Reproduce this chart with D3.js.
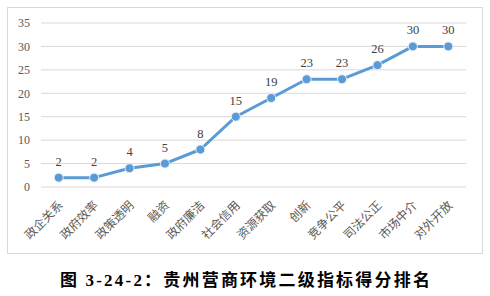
<!DOCTYPE html>
<html>
<head>
<meta charset="utf-8">
<script src="https://cdn.jsdelivr.net/npm/d3@7"></script>
<style>
	body { margin: 0; background: #fff; }
	svg { display: block; }
</style>
</head>
<body>
<div id="chart"></div>
<script>
const categories = ["政企关系", "政府效率", "政策透明", "融资", "政府廉洁", "社会信用",
	"资源获取", "创新", "竞争公平", "司法公正", "市场中介", "对外开放"];
const scores = [2, 2, 4, 5, 8, 15, 19, 23, 23, 26, 30, 30];
const yTicks = [0, 5, 10, 15, 20, 25, 30, 35];
const title = "图 3-24-2：贵州营商环境二级指标得分排名";

const width = 490, height = 296;
const plotLeft = 41, plotRight = 466, plotTop = 23, plotBottom = 187;
const serif = "'Liberation Serif', 'Noto Sans CJK SC', serif";

const svg = d3.select("#chart").append("svg")
	.attr("width", width)
	.attr("height", height);

// chart frame
svg.append("rect")
	.attr("x", 7.5).attr("y", 7.5)
	.attr("width", 475).attr("height", 246)
	.attr("fill", "#fff")
	.attr("stroke", "#d9d9d9");

const x = d3.scaleBand().domain(categories).range([plotLeft, plotRight]);
const y = d3.scaleLinear().domain([0, 35]).range([plotBottom, plotTop]);

// gridlines
svg.append("g").selectAll("line")
	.data(yTicks).enter()
	.append("line")
	.attr("x1", plotLeft).attr("x2", plotRight)
	.attr("y1", d => y(d)).attr("y2", d => y(d))
	.attr("stroke", "#d9d9d9")
	.attr("stroke-width", 1);

// y axis
const yAxis = svg.append("g")
	.attr("transform", "translate(" + (plotLeft - 11) + ",0)")
	.call(d3.axisLeft(y).tickValues(yTicks).tickSize(0).tickPadding(0));
yAxis.select(".domain").remove();
yAxis.selectAll("text")
	.attr("fill", "#595959")
	.style("font-family", serif)
	.style("font-size", "12px");

// x axis, rotated labels
const xAxis = svg.append("g")
	.attr("transform", "translate(0," + plotBottom + ")")
	.call(d3.axisBottom(x).tickSize(0).tickPadding(0));
xAxis.select(".domain").remove();
xAxis.selectAll("text")
	.attr("fill", "#595959")
	.style("font-family", "'Noto Sans CJK SC', sans-serif")
	.style("font-size", "12px")
	.attr("text-anchor", "end")
	.attr("dy", "0.35em")
	.attr("transform", "translate(2,16) rotate(-45)");

const cx = d => x(d.cat) + x.bandwidth() / 2;
const points = categories.map((c, i) => ({cat: c, value: scores[i]}));

svg.append("path")
	.datum(points)
	.attr("fill", "none")
	.attr("stroke", "#5b9bd5")
	.attr("stroke-width", 3)
	.attr("stroke-linejoin", "round")
	.attr("d", d3.line().x(cx).y(d => y(d.value)));

svg.append("g").selectAll("circle")
	.data(points).enter()
	.append("circle")
	.attr("cx", cx)
	.attr("cy", d => y(d.value))
	.attr("r", 4.5)
	.attr("fill", "#5b9bd5")
	.attr("stroke", "#e8eef6")
	.attr("stroke-width", 1);

svg.append("g").selectAll("text")
	.data(points).enter()
	.append("text")
	.attr("x", cx)
	.attr("y", d => y(d.value) - 12)
	.attr("text-anchor", "middle")
	.attr("fill", "#404040")
	.style("font-family", serif)
	.style("font-size", "12.5px")
	.text(d => d.value);

svg.append("text")
	.attr("x", 246)
	.attr("y", 286)
	.attr("text-anchor", "middle")
	.attr("fill", "#000")
	.style("font-family", serif)
	.style("font-weight", "bold")
	.style("font-size", "17px")
	.style("letter-spacing", "2.2px")
	.text(title);
</script>
</body>
</html>
